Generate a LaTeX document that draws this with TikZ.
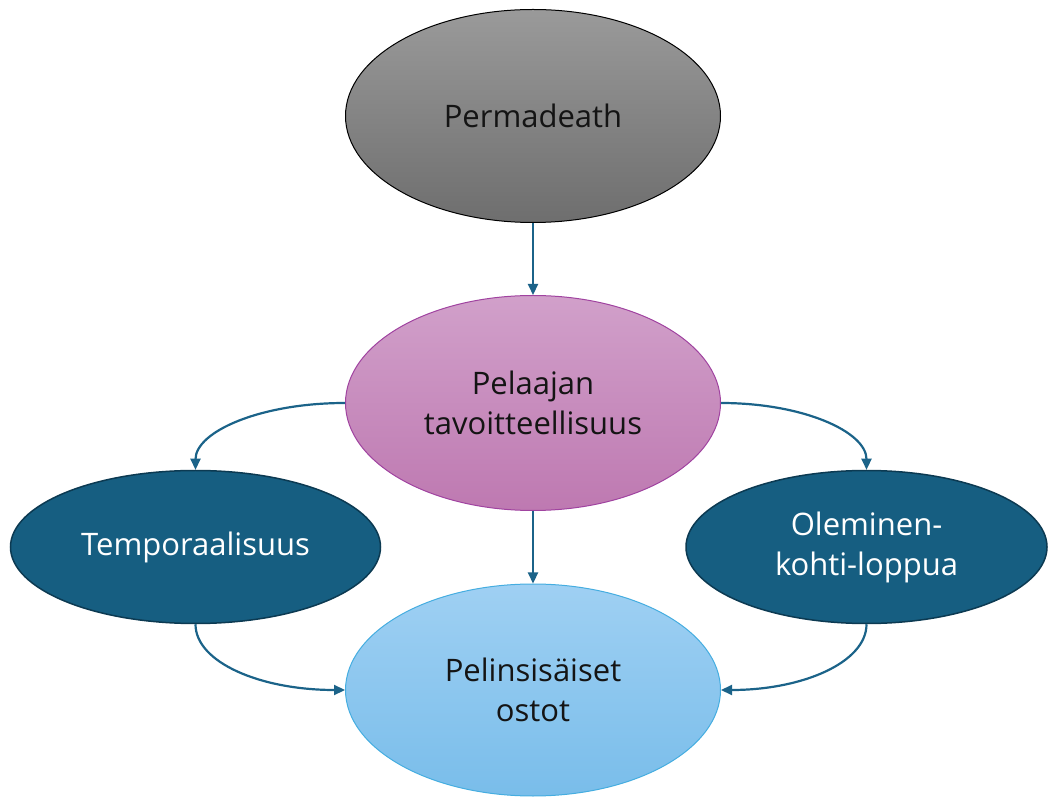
\documentclass[tikz,border=0pt]{standalone}
\usepackage{fontspec}
\setmainfont{Open Sans}
\usetikzlibrary{shapes.geometric,arrows.meta}
\definecolor{arrowc}{HTML}{1B6389}
\definecolor{darkfill}{HTML}{165E81}
\definecolor{darkline}{HTML}{0C3A52}
\definecolor{greytop}{HTML}{9A9A9A}
\definecolor{greybot}{HTML}{6E6E6E}
\definecolor{pinktop}{HTML}{D1A0CA}
\definecolor{pinkbot}{HTML}{BE79B1}
\definecolor{pinkline}{HTML}{A043A0}
\definecolor{bluetop}{HTML}{9FD0F3}
\definecolor{bluebot}{HTML}{79BDEA}
\definecolor{blueline}{HTML}{45ADE0}
\definecolor{txt}{HTML}{141414}
\tikzset{
  oval/.style={ellipse, inner sep=0pt, align=center, text=txt,
    font=\fontsize{31}{40}\selectfont, line width=1pt},
  greyoval/.style={oval, draw=black, top color=greytop, bottom color=greybot,
    minimum width=375pt, minimum height=213pt},
  pinkoval/.style={oval, draw=pinkline, top color=pinktop, bottom color=pinkbot,
    minimum width=375pt, minimum height=215pt},
  blueoval/.style={oval, draw=blueline, top color=bluetop, bottom color=bluebot,
    minimum width=375pt, minimum height=212pt},
  darkoval/.style={oval, draw=darkline, fill=darkfill, text=white, line width=1.5pt,
    minimum height=153pt},
  conn/.style={draw=arrowc, line width=2.2pt, -{Triangle[length=11pt,width=10pt]}}
}
\begin{document}
\begin{tikzpicture}[x=1pt,y=1pt]
\useasboundingbox (0,0) rectangle (1049,798);
\node[greyoval] (perma) at (533,682) {Permadeath};
\node[pinkoval] (pel) at (533,395) {Pelaajan\\tavoitteellisuus};
\node[darkoval, minimum width=370pt] (temp) at (195.5,251) {Temporaalisuus};
\node[darkoval, minimum width=361pt] (olem) at (866.5,251) {Oleminen-\\kohti-loppua};
\node[blueoval] (ost) at (533,108) {Pelinsisäiset\\ostot};
\draw[conn] (perma.south) -- (pel.north);
\draw[conn] (pel.south) -- (ost.north);
\draw[conn] (pel.west) .. controls +(-85,0) and +(0,38) .. (temp.north);
\draw[conn] (pel.east) .. controls +(82,0) and +(0,38) .. (olem.north);
\draw[conn] (temp.south) .. controls +(0,-38) and +(-85,0) .. (ost.west);
\draw[conn] (olem.south) .. controls +(0,-38) and +(82,0) .. (ost.east);
\end{tikzpicture}
\end{document}
